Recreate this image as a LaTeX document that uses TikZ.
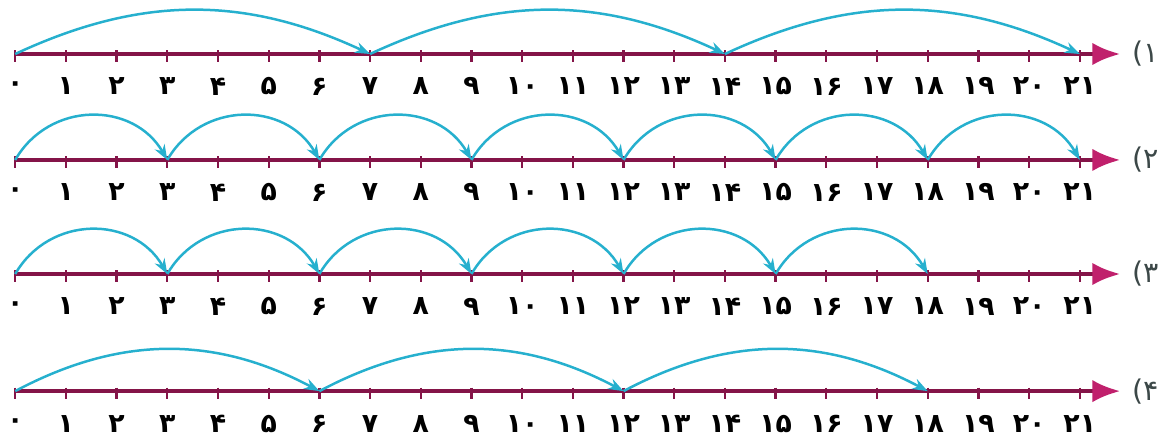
\documentclass[tikz,border=0pt]{standalone}
\usepackage{fontspec}
\newfontfamily\farsifont[Script=Arabic]{DejaVu Sans}
\newfontfamily\tagfont{DejaVu Sans}
\definecolor{jumpcyan}{RGB}{38,176,206}
\definecolor{axismaroon}{RGB}{132,20,72}
\definecolor{axistip}{RGB}{192,32,108}
\definecolor{tagslate}{RGB}{60,72,72}
\usetikzlibrary{arrows.meta}

\begin{document}
\begin{tikzpicture}[
    axis/.style={line width=2.3pt, axismaroon,
      -{Latex[length=0.55cm,width=0.44cm,color=axistip]}},
    notch/.style={axismaroon, line width=1.3pt},
    jump/.style={jumpcyan, line width=1.4pt,
      -{Stealth[length=0.3cm,width=0.22cm]}},
    digit/.style={font=\farsifont\bfseries\fontsize{15}{17}\selectfont},
    tag/.style={font=\tagfont\fontsize{16}{18}\selectfont, text=tagslate}
  ]
    \useasboundingbox (-0.3,1.065) rectangle (22.74,-7.59);
    % Number lines
    \foreach \row/\yy/\lbl in {1/0/۱, 2/-2.09/۲, 3/-4.34/۳, 4/-6.65/۴}{
      \coordinate (start\row) at (0,\yy);
      \coordinate (end\row) at (21.8,\yy);
      \draw[axis] (start\row) -- (end\row);
      \foreach \n/\num in {0/۰,1/۱,2/۲,3/۳,4/۴,5/۵,6/۶,7/۷,8/۸,9/۹,10/۱۰,
        11/۱۱,12/۱۲,13/۱۳,14/۱۴,15/۱۵,16/۱۶,17/۱۷,18/۱۸,19/۱۹,20/۲۰,21/۲۱}{
        \coordinate (p\row-\n) at (\n,\yy);
        \draw[notch] (\n,\yy+0.07) -- (\n,\yy-0.16);
        \node[digit] (d\row-\n) at (\n,\yy-0.64) {\num};
      }
      \node[tag] (tag\row) at (22.3,\yy) {(\lbl};
    }
    % Jumps of seven
    \foreach \a [evaluate=\a as \b using int(\a+7)] in {0,7,14}
      \draw[jump] (p1-\a) to[out=25,in=155] (p1-\b);
    % Jumps of three
    \foreach \a [evaluate=\a as \b using int(\a+3)] in {0,3,...,18}
      \draw[jump] (p2-\a) to[out=60,in=120,looseness=1.15] (p2-\b);
    \foreach \a [evaluate=\a as \b using int(\a+3)] in {0,3,...,15}
      \draw[jump] (p3-\a) to[out=60,in=120,looseness=1.15] (p3-\b);
    % Jumps of six
    \foreach \a [evaluate=\a as \b using int(\a+6)] in {0,6,12}
      \draw[jump] (p4-\a) to[out=28,in=152] (p4-\b);
  \end{tikzpicture}
\end{document}
